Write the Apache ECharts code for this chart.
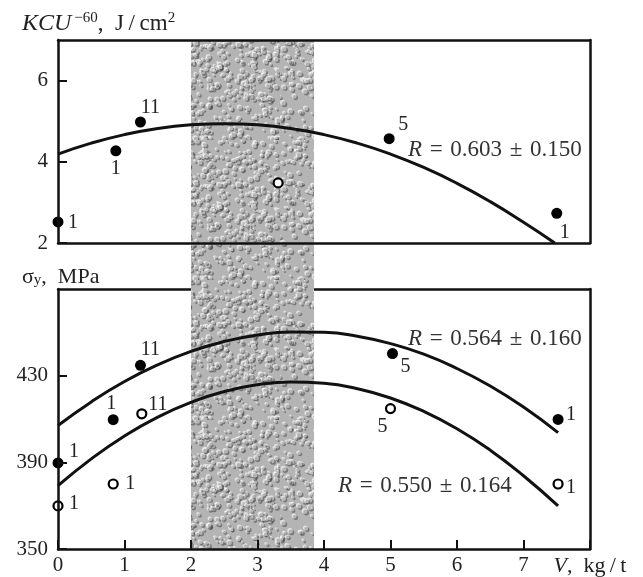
<!DOCTYPE html>
<html><head><meta charset="utf-8">
<script src="https://cdn.jsdelivr.net/npm/echarts@6.0.0/dist/echarts.min.js"></script>
<style>html,body{margin:0;padding:0;background:#fff}#c{width:643px;height:577px}</style>
</head><body><div id="c"></div>
<script>
// ---------- data ----------
const xRange = [0, 8];
const shadeRange = [2, 3.85];
const kcuRange = [2, 7];
const sigRange = [350, 470];
const xTickLabels = ['0', '1', '2', '3', '4', '5', '6', '7'];

const kcuCurveX = [0, 0.5, 1, 1.5, 2, 2.5, 3, 3.5, 4, 4.5, 5, 5.5, 6, 6.5, 7, 7.47];
const kcuCurveY = [4.19, 4.46, 4.67, 4.82, 4.91, 4.94, 4.91, 4.82, 4.67, 4.46, 4.19, 3.86, 3.47, 3.02, 2.51, 2.0];
const kcuFilledX = [0, 0.87, 1.24, 4.98, 7.5];
const kcuFilledY = [2.52, 4.27, 4.98, 4.57, 2.73];
const kcuFilledN = ['1', '1', '11', '5', '1'];
const kcuOpenX = [3.31];
const kcuOpenY = [3.48];

const sigCurveX = [0, 0.5, 1, 1.5, 2, 2.5, 3, 3.5, 4, 4.5, 5, 5.5, 6, 6.5, 7, 7.52];
const sigUpperY = [407.0, 417.9, 427.3, 435.0, 441.2, 445.8, 448.8, 450.2, 450.0, 448.2, 444.8, 439.9, 433.3, 425.2, 415.5, 403.7];
const sigLowerY = [379.2, 391.6, 402.2, 410.9, 417.7, 422.7, 425.8, 427.1, 426.5, 424.0, 419.7, 413.5, 405.5, 395.6, 383.8, 369.9];
const sigFilledX = [0, 0.83, 1.24, 5.03, 7.52];
const sigFilledY = [389.7, 409.7, 434.8, 440.2, 409.8];
const sigFilledN = ['1', '1', '11', '5', '1'];
const sigOpenX = [0, 0.83, 1.26, 5.0, 7.52];
const sigOpenY = [369.9, 380, 412.4, 414.8, 380];
const sigOpenN = ['1', '1', '11', '5', '1'];

const rTop = '0.603 ± 0.150';
const rUpper = '0.564 ± 0.160';
const rLower = '0.550 ± 0.164';

// ---------- styles / label offsets (not data) ----------
const kcuFilledOff = [[15, 1], [0, 18], [10, -14], [14, -14], [8, 19]];
const kcuOpenOff = [[0, 0]];
const sigFilledOff = [[16, -11], [-2, -16], [10, -16], [13, 13], [13, -5]];
const sigOpenOff = [[16, -2], [17, 0], [16, -9], [-8, 18], [13, 4]];

const SERIF = '"Liberation Serif", "DejaVu Serif", serif';
const INK = '#111';
const TXT = '#222';
const SP = '\u2002';
const SP3 = '\u2004';

// texture for the shaded band (decorative)
function makeTexture() {
  const c = document.createElement('canvas');
  c.width = 140; c.height = 140;
  const g = c.getContext('2d');
  g.fillStyle = '#b4b4b4';
  g.fillRect(0, 0, 140, 140);
  const h = n => { const s = Math.sin(n * 12.9898) * 43758.5453; return s - Math.floor(s); };
  for (let i = 0; i < 600; i++) {
    const x = h(i + 1) * 140, y = h(i + 777) * 140, r = 0.9 + h(i + 333) * 1.8;
    g.fillStyle = 'rgba(60,60,60,0.5)';
    g.beginPath(); g.arc(x + 1, y + 1, r, 0, 7); g.fill();
    g.fillStyle = 'rgba(250,250,250,0.65)';
    g.beginPath(); g.arc(x - 1, y - 1, r, 0, 7); g.fill();
    g.fillStyle = '#b4b4b4';
    g.beginPath(); g.arc(x, y, r * 0.8, 0, 7); g.fill();
  }
  return c;
}

function pts(xs, ys, ns, offs) {
  return xs.map((x, i) => ({
    value: [x, ys[i]],
    label: {
      show: !!(ns && ns[i]),
      formatter: ns ? ns[i] : '',
      position: 'inside',
      offset: offs[i],
      color: TXT,
      fontFamily: SERIF,
      fontSize: 20
    }
  }));
}

const chart = echarts.init(document.getElementById('c'), null, { renderer: 'canvas' });

const borderLine = { show: true, onZero: false, lineStyle: { color: INK, width: 2.5 } };
const noTick = { show: false };
const noLabel = { show: false };
const inTick = { show: true, inside: true, length: 9, lineStyle: { color: INK, width: 2 } };

function rText(x, y, val) {
  return { type: 'text', x: x, y: y, z: 10, style: {
    text: '{i|R}{n|' + SP3 + '=' + SP3 + val.replace(' ± ', SP3 + '±' + SP3) + '}', verticalAlign: 'middle', fill: '#333',
    rich: { i: { fontFamily: SERIF, fontStyle: 'italic', fontSize: 23, color: '#333' },
            n: { fontFamily: SERIF, fontSize: 23, color: '#333' } } } };
}

const option = {
  animation: false,
  backgroundColor: '#fff',
  grid: [
    { left: 58, top: 40, width: 532, height: 203 },
    { left: 58, top: 289, width: 532, height: 260 },
    { left: 58, top: 40, width: 532, height: 509 }
  ],
  xAxis: [
    { gridIndex: 0, type: 'value', min: xRange[0], max: xRange[1], position: 'bottom', z: 5,
      axisLine: borderLine, axisTick: noTick, axisLabel: noLabel, splitLine: { show: false } },
    { gridIndex: 0, type: 'value', min: xRange[0], max: xRange[1], position: 'top', z: 5,
      axisLine: borderLine, axisTick: noTick, axisLabel: noLabel, splitLine: { show: false } },
    { gridIndex: 1, type: 'value', min: xRange[0], max: xRange[1], interval: 1, position: 'bottom', z: 5,
      axisLine: borderLine, axisTick: inTick,
      axisLabel: { show: true, margin: 6, color: TXT, fontFamily: SERIF, fontSize: 21,
        formatter: v => {
          const i = Math.round(v);
          if (i < xTickLabels.length) return xTickLabels[i];
          return '{i|V}{n|,' + SP + 'kg\u2009/\u2009t}';
        },
        rich: { i: { fontStyle: 'italic', fontFamily: SERIF, fontSize: 22, color: TXT },
                n: { fontFamily: SERIF, fontSize: 22, color: TXT } } },
      splitLine: { show: false } },
    { gridIndex: 1, type: 'value', min: xRange[0], max: xRange[1], position: 'top', z: 0,
      axisLine: borderLine, axisTick: noTick, axisLabel: noLabel, splitLine: { show: false } },
    { gridIndex: 2, type: 'value', min: xRange[0], max: xRange[1], show: false }
  ],
  yAxis: [
    { gridIndex: 0, type: 'value', min: kcuRange[0], max: kcuRange[1], interval: 2, position: 'left', z: 5,
      axisLine: borderLine, axisTick: inTick,
      axisLabel: { show: true, showMaxLabel: false, margin: 10, color: TXT, fontFamily: SERIF, fontSize: 21 },
      splitLine: { show: false } },
    { gridIndex: 0, type: 'value', min: kcuRange[0], max: kcuRange[1], position: 'right', z: 5,
      axisLine: borderLine, axisTick: noTick, axisLabel: noLabel, splitLine: { show: false } },
    { gridIndex: 1, type: 'value', min: sigRange[0], max: sigRange[1], interval: 40, position: 'left', z: 5,
      axisLine: borderLine, axisTick: inTick,
      axisLabel: { show: true, showMaxLabel: false, margin: 10, color: TXT, fontFamily: SERIF, fontSize: 21 },
      splitLine: { show: false } },
    { gridIndex: 1, type: 'value', min: sigRange[0], max: sigRange[1], position: 'right', z: 5,
      axisLine: borderLine, axisTick: noTick, axisLabel: noLabel, splitLine: { show: false } },
    { gridIndex: 2, type: 'value', min: 0, max: 1, show: false }
  ],
  series: [
    { type: 'line', xAxisIndex: 4, yAxisIndex: 4, data: [], silent: true,
      markArea: { silent: true, itemStyle: { color: { image: makeTexture(), repeat: 'repeat' }, opacity: 1 },
        data: [[{ xAxis: shadeRange[0] }, { xAxis: shadeRange[1] }]] } },
    { type: 'line', xAxisIndex: 0, yAxisIndex: 0, smooth: true, showSymbol: false, z: 3,
      lineStyle: { color: INK, width: 3 }, data: kcuCurveX.map((x, i) => [x, kcuCurveY[i]]) },
    { type: 'scatter', xAxisIndex: 0, yAxisIndex: 0, symbolSize: 11, z: 4,
      itemStyle: { color: '#000', opacity: 1 }, data: pts(kcuFilledX, kcuFilledY, kcuFilledN, kcuFilledOff) },
    { type: 'scatter', xAxisIndex: 0, yAxisIndex: 0, symbolSize: 9, z: 4,
      itemStyle: { color: '#fff', borderColor: '#000', borderWidth: 2.2, opacity: 1 }, data: pts(kcuOpenX, kcuOpenY, null, kcuOpenOff) },
    { type: 'line', xAxisIndex: 2, yAxisIndex: 2, smooth: true, showSymbol: false, z: 3,
      lineStyle: { color: INK, width: 3 }, data: sigCurveX.map((x, i) => [x, sigUpperY[i]]) },
    { type: 'line', xAxisIndex: 2, yAxisIndex: 2, smooth: true, showSymbol: false, z: 3,
      lineStyle: { color: INK, width: 3 }, data: sigCurveX.map((x, i) => [x, sigLowerY[i]]) },
    { type: 'scatter', xAxisIndex: 2, yAxisIndex: 2, symbolSize: 11, z: 4,
      itemStyle: { color: '#000', opacity: 1 }, data: pts(sigFilledX, sigFilledY, sigFilledN, sigFilledOff) },
    { type: 'scatter', xAxisIndex: 2, yAxisIndex: 2, symbolSize: 9, z: 4,
      itemStyle: { color: '#fff', borderColor: '#000', borderWidth: 2.2, opacity: 1 }, data: pts(sigOpenX, sigOpenY, sigOpenN, sigOpenOff) }
  ],
  graphic: [
    { type: 'text', x: 22, y: 24, z: 10, style: {
      text: '{i|KCU}{sup|\u2009−60}{n|,' + SP + 'J\u2009/\u2009cm}{sup2|2}', verticalAlign: 'middle', fill: TXT,
      rich: {
        i: { fontFamily: SERIF, fontStyle: 'italic', fontSize: 24, color: TXT },
        n: { fontFamily: SERIF, fontSize: 23, color: TXT },
        sup: { fontFamily: SERIF, fontSize: 15, color: TXT, verticalAlign: 'top', padding: [0, 0, 11, 0] },
        sup2: { fontFamily: SERIF, fontSize: 15, color: TXT, verticalAlign: 'top', padding: [0, 0, 10, 0] }
      } } },
    { type: 'text', x: 22, y: 277, z: 10, style: {
      text: '{n|σ}{sub|y}{n|,' + SP + 'MPa}', verticalAlign: 'middle', fill: TXT,
      rich: {
        n: { fontFamily: SERIF, fontSize: 22, color: TXT },
        sub: { fontFamily: SERIF, fontSize: 15, color: TXT, verticalAlign: 'bottom', padding: [7, 0, 0, 0] }
      } } },
    rText(408, 150, rTop),
    rText(408, 339, rUpper),
    rText(338, 486, rLower)
  ]
};
chart.setOption(option);
</script>
</body></html>
